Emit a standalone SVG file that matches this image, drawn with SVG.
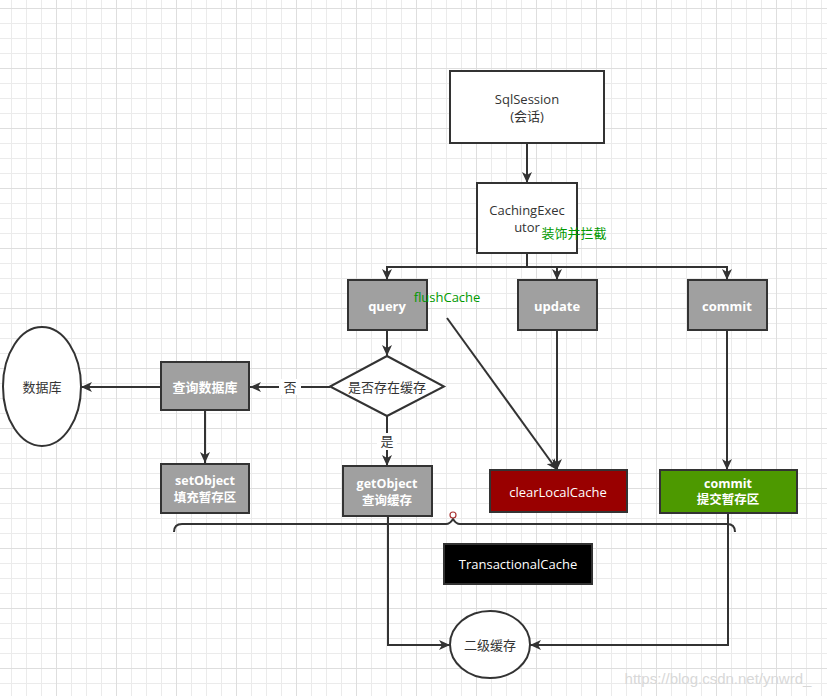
<svg xmlns="http://www.w3.org/2000/svg" width="827" height="696" viewBox="0 0 827 696">
<defs>
<pattern id="gMinor" patternUnits="userSpaceOnUse" x="11" y="8" width="15" height="15">
<path d="M0.5,0 V15 M0,0.5 H15" stroke="#ebebeb" stroke-width="1" fill="none"/>
</pattern>
<pattern id="gMajor" patternUnits="userSpaceOnUse" x="56" y="68" width="60" height="60">
<path d="M0.5,0 V60 M0,0.5 H60" stroke="#dedede" stroke-width="1" fill="none"/>
</pattern>
<marker id="arr" markerUnits="userSpaceOnUse" markerWidth="12" markerHeight="10" refX="11" refY="5" orient="auto">
<path d="M0,0 L11,5 L0,10 L3,5 Z" fill="#333"/>
</marker>
</defs>
<style>
text{font-family:"Open Sans","Noto Sans CJK SC",sans-serif;font-size:13px;text-anchor:middle;dominant-baseline:central}
.box{stroke:#333;stroke-width:2}
.white{fill:#fff}
.gray{fill:#a0a0a0}
.dk{fill:#333}
.wt{fill:#fff;font-weight:bold}
.wn{fill:#fff}
.two{font-size:12.5px}
.green{fill:#009900}
.conn path{fill:none;stroke:#333;stroke-width:2}
</style>
<rect width="827" height="696" fill="#fff"/>
<rect width="827" height="696" fill="url(#gMinor)"/>
<rect width="827" height="696" fill="url(#gMajor)"/>

<g id="connectors" class="conn">
<path d="M527,143 V183" marker-end="url(#arr)"/>
<path d="M527,253 V267 H387 V280" marker-end="url(#arr)"/>
<path d="M527,267 H557 V280" marker-end="url(#arr)"/>
<path d="M527,267 H727 V280" marker-end="url(#arr)"/>
<path d="M387,330 V356" marker-end="url(#arr)"/>
<path d="M330,387 H250" marker-end="url(#arr)"/>
<path d="M161,387 H81" marker-end="url(#arr)"/>
<path d="M205,410 V463" marker-end="url(#arr)"/>
<path d="M387,416 V466" marker-end="url(#arr)"/>
<path d="M557,330 V470" marker-end="url(#arr)"/>
<path d="M447,318 L557,470" marker-end="url(#arr)"/>
<path d="M727,330 V470" marker-end="url(#arr)"/>
<path d="M388,516 V645 H450" marker-end="url(#arr)"/>
<path d="M728,513 V645 H530" marker-end="url(#arr)"/>
<path d="M174,532 Q174,524 182,524 H446 Q450,524 453,519 Q456,524 460,524 H727 Q735,524 735,532"/>
</g>
<circle cx="453" cy="515" r="3" fill="#fff" stroke="#a33" stroke-width="1.2"/>
<rect x="279" y="379" width="22" height="16" fill="#fff"/>
<text x="290" y="387" class="dk">否</text>
<rect x="377" y="433" width="20" height="17" fill="#fff"/>
<text x="387" y="441" class="dk">是</text>

<g id="sqlsession">
<rect x="450" y="71" width="154" height="72" class="box white"/>
<text x="527" y="99" class="dk">SqlSession</text>
<text x="527" y="116" class="dk">(会话)</text>
</g>
<g id="cachingexecutor">
<rect x="477" y="183" width="100" height="70" class="box white"/>
<text x="527" y="210" class="dk">CachingExec</text>
<text x="527" y="227" class="dk">utor</text>
<text x="574" y="233" class="green">装饰并拦截</text>
</g>
<g id="query">
<rect x="348" y="280" width="79" height="50" class="box gray"/>
<text x="387" y="306" class="wt">query</text>
</g>
<text x="447" y="297" class="green">flushCache</text>
<g id="update">
<rect x="518" y="280" width="79" height="50" class="box gray"/>
<text x="557" y="306" class="wt">update</text>
</g>
<g id="commit">
<rect x="688" y="280" width="79" height="50" class="box gray"/>
<text x="727" y="306" class="wt">commit</text>
</g>
<g id="decision">
<path d="M387,356 L444,386.5 L387,416 L330,386.5 Z" class="box white"/>
<text x="387" y="387" class="dk">是否存在缓存</text>
</g>
<g id="querydb">
<rect x="161" y="362" width="88" height="48" class="box gray"/>
<text x="205" y="387" class="wt">查询数据库</text>
</g>
<g id="database">
<ellipse cx="42" cy="386.5" rx="39" ry="59.5" class="box white"/>
<text x="42" y="387" class="dk">数据库</text>
</g>
<g id="setobject">
<rect x="161" y="464" width="88" height="49" class="box gray"/>
<text x="205" y="480.5" class="wt two">setObject</text>
<text x="205" y="497" class="wt two">填充暂存区</text>
</g>
<g id="getobject">
<rect x="343" y="466" width="89" height="50" class="box gray"/>
<text x="387" y="483.5" class="wt two">getObject</text>
<text x="387" y="500" class="wt two">查询缓存</text>
</g>
<g id="clearlocalcache">
<rect x="490" y="470" width="137" height="42" class="box" fill="#990000"/>
<text x="558" y="492" class="wn">clearLocalCache</text>
</g>
<g id="commitstage">
<rect x="660" y="470" width="137" height="43" class="box" fill="#4d9900"/>
<text x="728" y="483" class="wt two">commit</text>
<text x="728" y="499.5" class="wt two">提交暂存区</text>
</g>
<g id="transactionalcache">
<rect x="444" y="544" width="148" height="40" class="box" fill="#000"/>
<text x="518" y="564" class="wn">TransactionalCache</text>
</g>
<g id="secondlevelcache">
<ellipse cx="490" cy="644.5" rx="40" ry="33.5" class="box white"/>
<text x="490" y="645" class="dk">二级缓存</text>
</g>
<text x="718" y="678" style="fill:#d8d8d8;font-family:'Liberation Sans',sans-serif;font-size:15px">https://blog.csdn.net/ynwrd_</text>
</svg>
